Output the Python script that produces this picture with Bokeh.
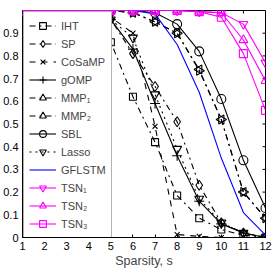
import math
from bokeh.plotting import figure
from bokeh.models import Legend, LegendItem, FixedTicker, Range1d
from bokeh.embed import file_html
from bokeh.resources import INLINE

# ---- data ----
sparsity = [1, 2, 3, 4, 5, 6, 7, 8, 9, 10, 11, 12]
x_ticks = [1, 2, 3, 4, 5, 6, 7, 8, 9, 10, 11, 12]
y_ticks = [0, 0.1, 0.2, 0.3, 0.4, 0.5, 0.6, 0.7, 0.8, 0.9]
y_tick_labels = ["0", "0.1", "0.2", "0.3", "0.4", "0.5", "0.6", "0.7", "0.8", "0.9"]

iht    = [1, 1, 1, 1, 0.86, 0.62, 0.42, 0.185, 0.085, 0.035, 0.01, 0]
sp     = [1, 1, 1, 1, 0.96, 0.81, 0.665, 0.51, 0.23, 0.065, 0.02, 0]
cosamp = [1, 1, 1, 1, 0.97, 0.90, 0.49, 0.013, 0.005, 0.0, 0.0, 0.0]
gomp   = [1, 1, 1, 1, 0.96, 0.83, 0.59, 0.36, 0.16, 0.06, 0.02, 0]
mmp1   = [1, 1, 1, 1, 1, 0.99, 0.95, 0.90, 0.74, 0.52, 0.20, 0.085]
mmp2   = [1, 1, 1, 1, 1, 0.99, 0.95, 0.90, 0.735, 0.52, 0.20, 0.085]
sbl    = [1, 1, 1, 1, 1, 1, 0.99, 0.94, 0.82, 0.61, 0.34, 0.13]
lasso  = [1, 1, 1, 1, 0.96, 0.88, 0.63, 0.39, 0.17, 0.065, 0.02, 0]
gflstm = [1, 1, 1, 1, 1, 1, 0.985, 0.85, 0.64, 0.35, 0.11, 0.01]
tsn1   = [1, 1, 1, 1, 1, 1, 1, 1, 0.995, 0.99, 0.94, 0.77]
tsn2   = [1, 1, 1, 1, 1, 1, 1, 1, 0.995, 0.99, 0.87, 0.69]
tsn3   = [1, 1, 1, 1, 1, 1, 1, 1, 0.995, 0.97, 0.81, 0.56]

labels = ["IHT", "SP", "CoSaMP", "gOMP", "MMP\u2081", "MMP\u2082", "SBL", "Lasso",
          "GFLSTM", "TSN\u2081", "TSN\u2082", "TSN\u2083"]

FONT = "Liberation Sans"
BLACK = "black"
MAG = "#FF00FF"
BLUE = "#0000FF"

styles = [
    (iht,    BLACK, "dashdot", "square", 0.0, 7),
    (sp,     BLACK, "dashdot", "diamond", 0.0, 10),
    (cosamp, BLACK, "dashed",  "x", 0.0, 7),
    (gomp,   BLACK, "solid",   "cross", 0.0, 10),
    (mmp1,   BLACK, "dashdot", "triangle", math.pi / 2, 9),
    (mmp2,   BLACK, "dashdot", "triangle", -math.pi / 2, 9),
    (sbl,    BLACK, "solid",   "circle", 0.0, 9),
    (lasso,  BLACK, "dotted",  "inverted_triangle", 0.0, 9),
    (gflstm, BLUE,  "solid",   None, 0.0, 0),
    (tsn1,   MAG,   "solid",   "inverted_triangle", 0.0, 9),
    (tsn2,   MAG,   "solid",   "triangle", 0.0, 9),
    (tsn3,   MAG,   "solid",   "square", 0.0, 8),
]

p = figure(width=272, height=273, output_backend="svg", toolbar_location=None,
           x_range=Range1d(1, 12), y_range=Range1d(0, 1),
           min_border_left=20, min_border_right=7, min_border_top=10, min_border_bottom=36)
p.background_fill_color = "white"
p.border_fill_color = "white"
p.xgrid.visible = False
p.ygrid.visible = False
p.outline_line_color = "black"
p.outline_line_width = 1

for ax, ticks in ((p.xaxis[0], x_ticks), (p.yaxis[0], y_ticks)):
    ax.ticker = FixedTicker(ticks=ticks)
    ax.major_tick_in = 3
    ax.major_tick_out = 0
    ax.major_tick_line_color = "black"
    ax.minor_tick_line_color = None
    ax.axis_line_color = None
    ax.major_label_text_font = FONT
    ax.major_label_text_font_size = "11px"
    ax.major_label_text_color = "black"

p.yaxis[0].major_label_overrides = {t: l for t, l in zip(y_ticks, y_tick_labels)}
p.yaxis[0].major_label_standoff = 4
p.xaxis[0].major_label_standoff = 4
p.xaxis[0].axis_label = "Sparsity, s"
p.xaxis[0].axis_label_text_font = FONT
p.xaxis[0].axis_label_text_font_size = "12.5px"
p.xaxis[0].axis_label_text_font_style = "normal"
p.xaxis[0].axis_label_standoff = 1

# mirrored inward ticks on the top and right edges (MATLAB box style)
p.ray(x=x_ticks, y=[1] * len(x_ticks), length=3, length_units="screen",
      angle=-math.pi / 2, line_color="black", line_width=1)
p.ray(x=[12] * len(y_ticks), y=y_ticks, length=3, length_units="screen",
      angle=math.pi, line_color="black", line_width=1)

items = []
for label, (vals, color, dash, marker, ang, size) in zip(labels, styles):
    rs = [p.line(sparsity, vals, line_color=color, line_width=1.1, line_dash=dash)]
    if marker is not None:
        rs.append(p.scatter(sparsity, vals, marker=marker, size=size, angle=ang,
                            line_color=color, fill_color=None, line_width=1.1))
    items.append(LegendItem(label=label, renderers=rs))

legend = Legend(items=items, location="top_left",
                label_text_font=FONT, label_text_font_size="11px",
                glyph_width=27, glyph_height=17, label_height=17,
                spacing=1, padding=5, margin=1, label_standoff=5,
                border_line_color="#666666", border_line_width=1.5,
                background_fill_color="white", background_fill_alpha=1.0)
p.add_layout(legend)

open("out.html", "w").write(file_html(p, INLINE))
